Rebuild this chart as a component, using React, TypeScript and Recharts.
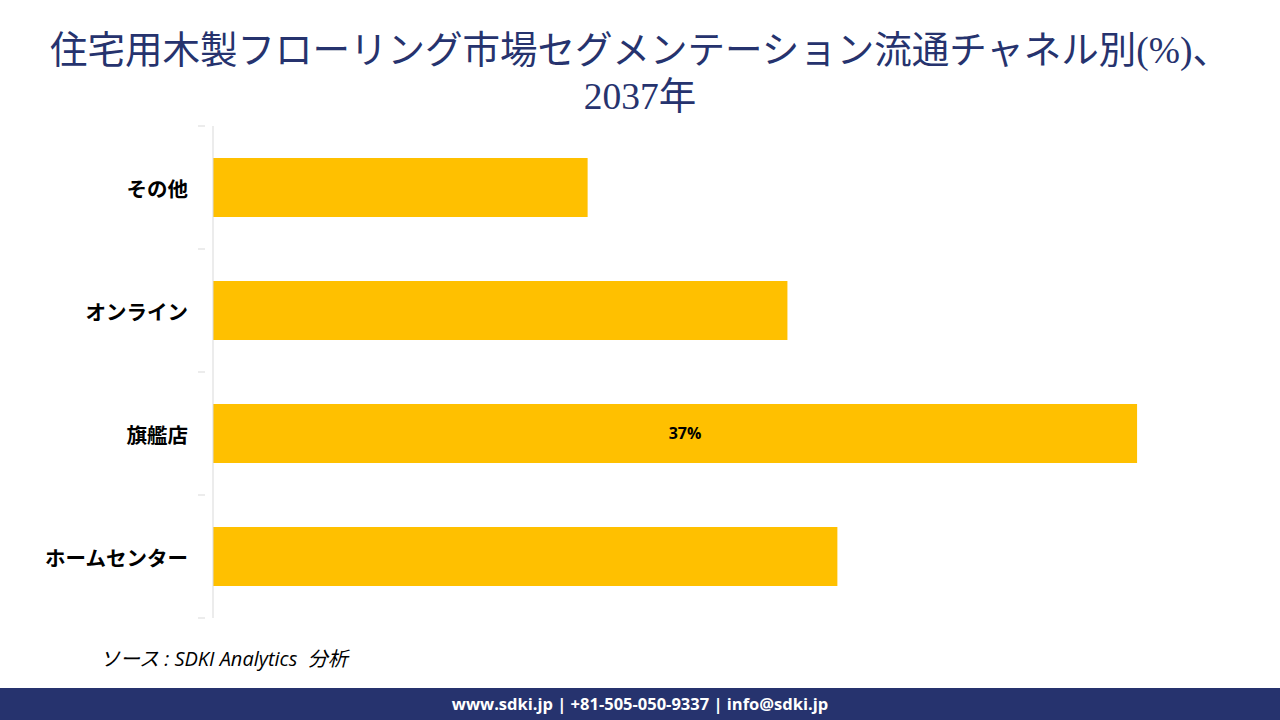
import React from "react";
import { BarChart, Bar, XAxis, YAxis, LabelList } from "recharts";

// 2037年 流通チャネル別シェア (%)
const channels = ["その他", "オンライン", "旗艦店", "ホームセンター"];
const shares = [15, 23, 37, 25];
const labeledChannels = ["旗艦店"];

const data = channels.map((name, i) => ({ name, share: shares[i] }));

const NAVY = "#26336e";
const BAR = "#FFC000";
const AXIS = "#d9d9d9";

// category tick: label plus a small tick mark at the band edges
function ChannelTick(props: any) {
  const { x, y, payload, index } = props;
  const half = 61.5;
  return (
    <g>
      <line x1={x - 7} x2={x} y1={y - half} y2={y - half} stroke={AXIS} />
      {index === channels.length - 1 && (
        <line x1={x - 7} x2={x} y1={y + half} y2={y + half} stroke={AXIS} />
      )}
      <text
        x={x - 17}
        y={y}
        textAnchor="end"
        dominantBaseline="central"
        fontFamily='"Noto Sans CJK JP", sans-serif'
        fontWeight={700}
        fontSize={20.5}
        fill="#000"
      >
        {payload.value}
      </text>
    </g>
  );
}

export default function App() {
  return (
    <div
      style={{
        position: "absolute",
        left: 0,
        top: 0,
        width: 1280,
        height: 720,
        background: "#fff",
        overflow: "hidden",
      }}
    >
      <div
        style={{
          position: "absolute",
          top: 28,
          left: 0,
          width: 1280,
          textAlign: "center",
          fontFamily: '"Liberation Serif", "Noto Sans CJK JP", serif',
          fontSize: 37.5,
          lineHeight: "46px",
          color: NAVY,
        }}
      >
        住宅用木製フローリング市場セグメンテーション流通チャネル別(%)、
        <br />
        2037年
      </div>

      <div style={{ position: "absolute", left: 0, top: 0 }}>
        <BarChart
          width={1280}
          height={720}
          layout="vertical"
          data={data}
          margin={{ top: 126, right: 68, bottom: 102, left: 0 }}
          barCategoryGap="26%"
        >
          <XAxis type="number" domain={[0, 40]} hide />
          <YAxis
            type="category"
            dataKey="name"
            width={213}
            axisLine={{ stroke: AXIS }}
            tickLine={false}
            tick={<ChannelTick />}
            interval={0}
          />
          <Bar dataKey="share" fill={BAR} isAnimationActive={false}>
            <LabelList
              dataKey="share"
              position="center"
              content={(p: any) => {
                const d = data[p.index];
                if (!d || !labeledChannels.includes(d.name)) return null;
                return (
                  <text
                    x={p.x + p.width / 2 + 10}
                    y={p.y + p.height / 2}
                    textAnchor="middle"
                    dominantBaseline="central"
                    fontFamily='"Open Sans", sans-serif'
                    fontWeight={700}
                    fontSize={16}
                    fill="#000"
                  >
                    {`${d.share}%`}
                  </text>
                );
              }}
            />
          </Bar>
        </BarChart>
      </div>

      <div
        style={{
          position: "absolute",
          left: 100,
          top: 643,
          fontFamily: '"Open Sans", "Noto Sans CJK JP", sans-serif',
          fontStyle: "italic",
          fontSize: 20,
          color: "#000",
          whiteSpace: "pre",
        }}
      >
        {"ソース : SDKI Analytics  分析"}
      </div>

      <div
        style={{
          position: "absolute",
          left: 0,
          top: 688,
          width: 1280,
          height: 32,
          background: NAVY,
          color: "#fff",
          textAlign: "center",
          fontFamily: '"Open Sans", sans-serif',
          fontWeight: 700,
          fontSize: 16.5,
          lineHeight: "32px",
        }}
      >
        www.sdki.jp | +81-505-050-9337 | info@sdki.jp
      </div>
    </div>
  );
}
